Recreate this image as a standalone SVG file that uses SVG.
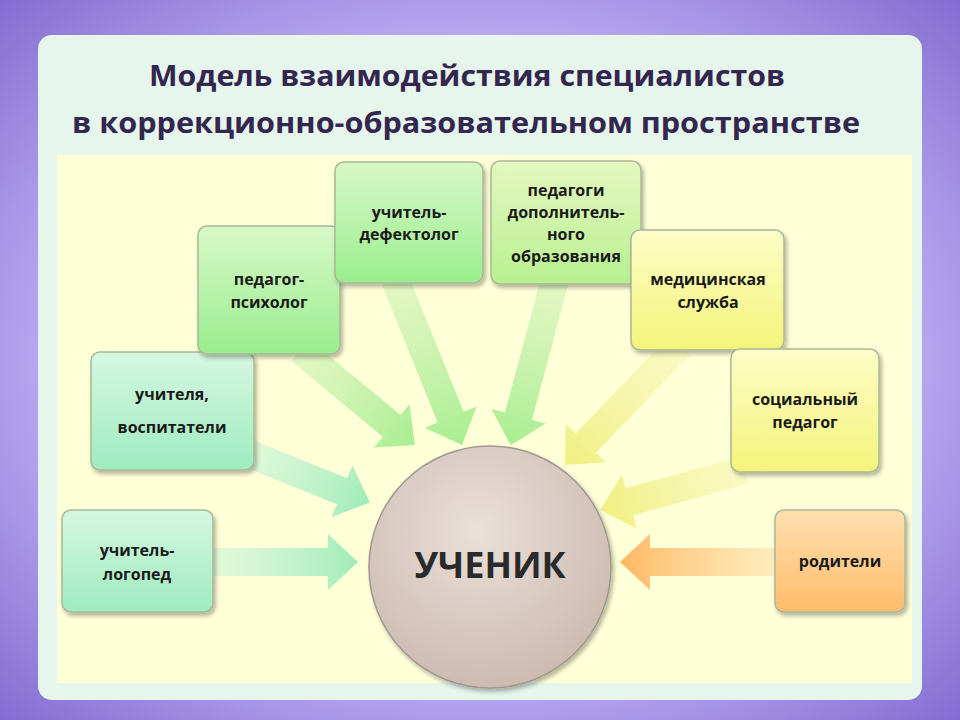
<svg xmlns="http://www.w3.org/2000/svg" width="960" height="720" viewBox="0 0 960 720">
<defs>
<radialGradient id="bg" cx="50%" cy="50%" r="75%"><stop offset="0.6" stop-color="#b8a8f0"/><stop offset="1" stop-color="#7a62cc"/></radialGradient>
<linearGradient id="gTeal" x1="0" y1="0" x2="0" y2="1"><stop offset="0" stop-color="#d6f7e0"/><stop offset="1" stop-color="#9eecc0"/></linearGradient>
<linearGradient id="gGreen" x1="0" y1="0" x2="0" y2="1"><stop offset="0" stop-color="#d8f8c8"/><stop offset="1" stop-color="#9aee8e"/></linearGradient>
<linearGradient id="gLime" x1="0" y1="0" x2="0" y2="1"><stop offset="0" stop-color="#e4f8c0"/><stop offset="1" stop-color="#b8f090"/></linearGradient>
<linearGradient id="gYel" x1="0" y1="0" x2="0" y2="1"><stop offset="0" stop-color="#fdfdc8"/><stop offset="1" stop-color="#f4f47a"/></linearGradient>
<linearGradient id="gOr" x1="0" y1="0" x2="0" y2="1"><stop offset="0" stop-color="#ffe0b0"/><stop offset="1" stop-color="#ffbc6a"/></linearGradient>
<radialGradient id="gCirc" cx="45%" cy="35%" r="70%"><stop offset="0" stop-color="#eae0da"/><stop offset="1" stop-color="#cbb8ad"/></radialGradient>
<linearGradient id="aG" x1="0" y1="0" x2="1" y2="0"><stop offset="0" stop-color="#c8f0b0" stop-opacity="0.5"/><stop offset="1" stop-color="#a8ee90"/></linearGradient>
<linearGradient id="aT" x1="0" y1="0" x2="1" y2="0"><stop offset="0" stop-color="#c8f4d8" stop-opacity="0.5"/><stop offset="1" stop-color="#a0ecb8"/></linearGradient>
<linearGradient id="aY" x1="0" y1="0" x2="1" y2="0"><stop offset="0" stop-color="#f4f4b0" stop-opacity="0.5"/><stop offset="1" stop-color="#f0f080"/></linearGradient>
<linearGradient id="aO" x1="0" y1="0" x2="1" y2="0"><stop offset="0" stop-color="#ffd8a0" stop-opacity="0.5"/><stop offset="1" stop-color="#ffb860"/></linearGradient>
<filter id="sh" x="-10%" y="-10%" width="130%" height="130%"><feDropShadow dx="2" dy="3" stdDeviation="2" flood-color="#000" flood-opacity="0.3"/></filter>
</defs>
<style>
.box{stroke:#a8b898;stroke-width:1.5;filter:url(#sh)}
.t{font-family:"Open Sans","DejaVu Sans",sans-serif;font-weight:bold;font-size:16px;fill:#1a1a1a;text-anchor:middle}
.title{font-family:"Open Sans","DejaVu Sans",sans-serif;font-weight:bold;font-size:29px;fill:#33264f;text-anchor:middle}
</style>
<rect width="960" height="720" fill="url(#bg)"/>
<rect x="38" y="35" width="884" height="665" rx="14" fill="#e6f6ec"/>
<rect x="57" y="155" width="855" height="528" fill="#ffffd8"/>
<text class="title" x="467" y="86" textLength="636" lengthAdjust="spacingAndGlyphs">Модель взаимодействия специалистов</text>
<text class="title" x="466" y="133" textLength="788" lengthAdjust="spacingAndGlyphs">в коррекционно-образовательном пространстве</text>
<g id="connectors">
<polygon transform="translate(213,562) rotate(0)" points="0,-14 115,-14 115,-28 145,0 115,28 115,14 0,14" fill="url(#aT)"/>
<polygon transform="translate(240,450) rotate(22)" points="0,-14 110,-14 110,-28 140,0 110,28 110,14 0,14" fill="url(#aT)"/>
<polygon transform="translate(300,350) rotate(39.6)" points="0,-14 119,-14 119,-28 149,0 119,28 119,14 0,14" fill="url(#aG)"/>
<polygon transform="translate(395,280) rotate(67.9)" points="0,-14 148,-14 148,-28 178,0 148,28 148,14 0,14" fill="url(#aG)"/>
<polygon transform="translate(555,280) rotate(105)" points="0,-14 141,-14 141,-28 171,0 141,28 141,14 0,14" fill="url(#aG)"/>
<polygon transform="translate(680,345) rotate(133.8)" points="0,-14 136,-14 136,-28 166,0 136,28 136,14 0,14" fill="url(#aY)"/>
<polygon transform="translate(745,470) rotate(164.6)" points="0,-14 120,-14 120,-28 150,0 120,28 120,14 0,14" fill="url(#aY)"/>
<polygon transform="translate(775,562) rotate(180)" points="0,-14 125,-14 125,-28 155,0 125,28 125,14 0,14" fill="url(#aO)"/>
</g>
<g id="logoped"><rect class="box" x="62" y="510" width="151" height="102" rx="9" fill="url(#gTeal)"/><text class="t" x="137" y="556">учитель-</text><text class="t" x="137" y="580">логопед</text></g>
<g id="vospitateli"><rect class="box" x="91" y="352" width="163" height="118" rx="9" fill="url(#gTeal)"/><text class="t" x="172" y="400">учителя,</text><text class="t" x="172" y="433">воспитатели</text></g>
<g id="psiholog"><rect class="box" x="198" y="226" width="142" height="128" rx="9" fill="url(#gGreen)"/><text class="t" x="269" y="285">педагог-</text><text class="t" x="269" y="308">психолог</text></g>
<g id="defektolog"><rect class="box" x="335" y="162" width="148" height="121" rx="9" fill="url(#gGreen)"/><text class="t" x="409" y="218">учитель-</text><text class="t" x="409" y="240">дефектолог</text></g>
<g id="dop"><rect class="box" x="491" y="161" width="150" height="123" rx="9" fill="url(#gLime)"/><text class="t" x="566" y="196">педагоги</text><text class="t" x="566" y="218">дополнитель-</text><text class="t" x="566" y="240">ного</text><text class="t" x="566" y="262">образования</text></g>
<g id="med"><rect class="box" x="631" y="230" width="153" height="120" rx="9" fill="url(#gYel)"/><text class="t" x="708" y="285">медицинская</text><text class="t" x="708" y="308">служба</text></g>
<g id="social"><rect class="box" x="731" y="349" width="148" height="123" rx="9" fill="url(#gYel)"/><text class="t" x="805" y="405">социальный</text><text class="t" x="805" y="428">педагог</text></g>
<g id="roditeli"><rect class="box" x="775" y="510" width="130" height="102" rx="9" fill="url(#gOr)"/><text class="t" x="840" y="567">родители</text></g>
<g id="uchenik"><circle cx="490" cy="567" r="121" fill="url(#gCirc)" stroke="#a09890" stroke-width="1.5" filter="url(#sh)"/><text x="490" y="578" font-family="'Open Sans','DejaVu Sans',sans-serif" font-weight="bold" font-size="36" fill="#2a2a2a" text-anchor="middle">УЧЕНИК</text></g>
</svg>
